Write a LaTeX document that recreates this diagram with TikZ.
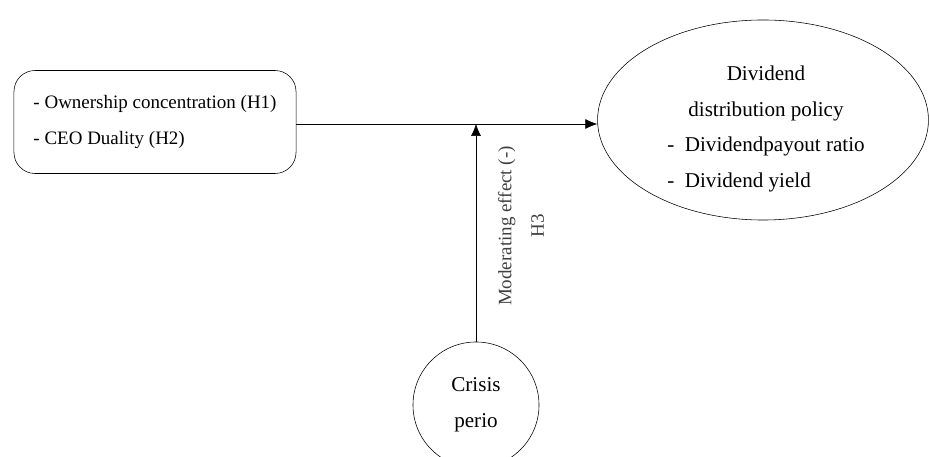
\documentclass[tikz,border=0pt]{standalone}
\usepackage{fontspec}
\setmainfont{Liberation Serif}
\usepackage{calc}
\usetikzlibrary{shapes.geometric,arrows.meta}
\tikzset{
  txt/.style={font=\fontsize{13.5}{25}\selectfont},
  bigtxt/.style={font=\fontsize{15}{25.5}\selectfont},
  >={Latex[length=0.3cm,width=0.25cm]},
}
\begin{document}
\begin{tikzpicture}[x=0.025cm,y=-0.025cm]
  \useasboundingbox (0,0) rectangle (929,457);
  \clip (0,0) rectangle (929,457);
  \node (vars) [draw, rounded corners=15, minimum width=7.05cm, minimum height=2.575cm,
    txt, align=left] at (155,122)
    {-\ Ownership concentration (H1)\\-\ CEO Duality (H2)};
  \node (div) [draw, ellipse, minimum width=8.27cm, minimum height=5cm] at (763,120) {};
  \node (divtxt) [bigtxt, align=center] at (766,129)
    {Dividend\\distribution policy\\-\ \ Dividendpayout ratio\\
     \makebox[\widthof{-\ \ Dividendpayout ratio}][l]{-\ \ Dividend yield}};
  \node (crisis) [draw, circle, minimum size=3.15cm, bigtxt, align=center, inner sep=0pt]
    at (476,405) {Crisis\\perio};
  \coordinate (j) at (476,124);
  \node (mod) [rotate=90, align=center, text=black!75,
    font=\fontsize{13.5}{23}\selectfont] at (521,226) {Moderating effect (-)\\H3};
  \draw [->] (vars.east |- j) -- (j -| div.west);
  \draw [->] (crisis) -- (j);
\end{tikzpicture}
\end{document}
